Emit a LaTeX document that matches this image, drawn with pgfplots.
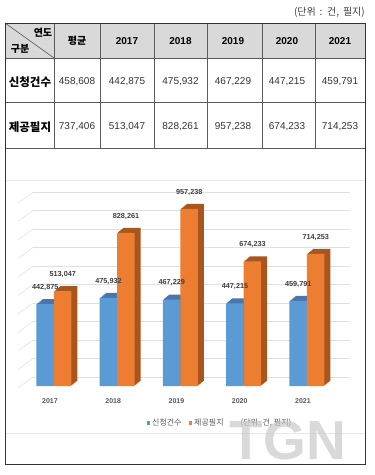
\documentclass[border=0pt]{standalone}
\usepackage{pgfplots}
\pgfplotsset{compat=1.18}
\usepackage{pgfplotstable}
\usepackage{fontspec}
\setmainfont{Liberation Sans}
\newfontfamily\kr{Noto Sans CJK KR}
\definecolor{cblue}{HTML}{5B9BD5}
\definecolor{corange}{HTML}{ED7D31}
\definecolor{cblueD}{HTML}{4677AE}
\definecolor{corangeD}{HTML}{A9561C}
\definecolor{hdr}{HTML}{D9D9D9}
\definecolor{tline}{HTML}{5A5A5A}
\definecolor{txt}{HTML}{595959}
\pgfplotsset{sqlegend/.style={legend image code/.code={\fill[##1] (0pt,-1.8pt) rectangle (3.6pt,1.8pt);}}}

\pgfplotstableread{
x blue orange
0 442875 513047
1 475932 828261
2 467229 957238
3 447215 674233
4 459791 714253
}\data

\begin{document}
\begin{tikzpicture}[x=1pt,y=1pt]
\useasboundingbox (0,0) rectangle (375,-475);
\fill[white] (0,0) rectangle (375,-475);
% table header background
\fill[hdr] (5,-23) rectangle (365,-58);
% faint chart frame lines
\draw[gray!18, line width=0.6pt] (5,-180) -- (365,-180);
\draw[gray!18, line width=0.6pt] (5,-433) -- (365,-433);
% table grid
\draw[tline, line width=0.6pt] (5,-58) -- (365,-58) (5,-102) -- (365,-102) (5,-148) -- (365,-148);
\foreach \xx in {54,100,154,207,262,315} \draw[tline, line width=0.6pt] (\xx,-23) -- (\xx,-148);
\draw[tline, line width=0.6pt] (5,-23) -- (54,-58);
\draw[black!80, line width=0.9pt] (5,-23) rectangle (365,-464);
% unit
\node[font=\kr\fontsize{10}{10}\selectfont, text=black!75, anchor=east, inner sep=0pt] at (365,-12) {(단위 \,:\, 건, \,필지)};
% header texts
\node[font=\kr\bfseries\fontsize{10}{10}\selectfont] at (43,-33) {연도};
\node[font=\kr\bfseries\fontsize{10}{10}\selectfont] at (20,-49) {구분};
\node[font=\kr\bfseries\fontsize{10}{10}\selectfont] at (77,-41) {평균};
\node[font=\bfseries\fontsize{10}{10}\selectfont] at (127,-41) {2017};
\node[font=\bfseries\fontsize{10}{10}\selectfont] at (180.5,-41) {2018};
\node[font=\bfseries\fontsize{10}{10}\selectfont] at (233,-41) {2019};
\node[font=\bfseries\fontsize{10}{10}\selectfont] at (287,-41) {2020};
\node[font=\bfseries\fontsize{10}{10}\selectfont] at (340,-41) {2021};
% row labels
\node[font=\kr\bfseries\fontsize{11.5}{12}\selectfont] at (30,-82) {신청건수};
\node[font=\kr\bfseries\fontsize{11.5}{12}\selectfont] at (30,-127) {제공필지};
% values
\begin{scope}[every node/.style={font=\fontsize{10}{10}\selectfont, text=black!80}]
\node at (77,-82) {458,608};
\node at (127,-82) {442,875};
\node at (180.5,-82) {475,932};
\node at (233,-82) {467,229};
\node at (287,-82) {447,215};
\node at (340,-82) {459,791};
\node at (77,-127) {737,406};
\node at (127,-127) {513,047};
\node at (180.5,-127) {828,261};
\node at (233,-127) {957,238};
\node at (287,-127) {674,233};
\node at (340,-127) {714,253};
\end{scope}

\begin{axis}[
  at={(33pt,-386pt)}, anchor=south west,
  scale only axis, width=317pt, height=194.25pt,
  xmin=-0.332, xmax=4.68, ymin=0, ymax=1050000,
  enlargelimits=false, clip=false,
  axis line style={draw=none},
  major tick length=0pt,
  scaled y ticks=false,
  ytick={0,100000,200000,300000,400000,500000,600000,700000,800000,900000,1000000},
  yticklabels={},
  ymajorgrids,
  major grid style={draw=gray!25, line width=0.5pt, yshift=9pt},
  xtick={0,1,2,3,4},
  xticklabels={2017,2018,2019,2020,2021},
  xticklabel style={font=\bfseries\fontsize{7}{8}\selectfont, text=txt, xshift=-4pt, yshift=-9pt},
  ybar, bar width=17.5pt,
  /pgf/number format/.cd, fixed, 1000 sep={,}, assume math mode=true,
  /pgfplots/.cd,
  legend style={draw=none, fill=none, at={(0.483,-0.19)}, anchor=center,
    legend columns=2, font=\kr\fontsize{8}{9}\selectfont, text=txt,
    /tikz/every even column/.append style={column sep=5pt}},
]
\pgfplotsinvokeforeach{0,100000,200000,300000,400000,500000,600000,700000,800000,900000,1000000}{
  \draw[gray!25, line width=0.5pt] ([yshift=9pt]axis cs:-0.332,#1) -- ++(-15pt,-11pt);
}
\pgfplotsinvokeforeach{1,2,3,4,5,6}{
  \addplot[fill=cblueD, draw=none, bar shift=-8.75pt, xshift=#1pt, yshift={#1*0.83pt}, forget plot] table[x=x,y=blue]{\data};
}
\addplot[fill=cblue, draw=none, bar shift=-8.75pt, sqlegend,
  nodes near coords,
  every node near coord/.append style={font=\bfseries\fontsize{7.3}{8}\selectfont, text=black!75, yshift=10pt}]
  table[x=x,y=blue]{\data};
\addlegendentry{신청건수}
\pgfplotsinvokeforeach{1,2,3,4,5,6}{
  \addplot[fill=corangeD, draw=none, bar shift=8.75pt, xshift=#1pt, yshift={#1*0.83pt}, forget plot] table[x=x,y=orange]{\data};
}
\addplot[fill=corange, draw=none, bar shift=8.75pt, sqlegend,
  nodes near coords,
  every node near coord/.append style={font=\bfseries\fontsize{7.3}{8}\selectfont, text=black!75, yshift=10pt}]
  table[x=x,y=orange]{\data};
\addlegendentry{제공필지}
\end{axis}
\node[font=\kr\fontsize{8}{9}\selectfont, text=txt] at (266,-423) {(단위: 건, 필지)};
\node[font=\bfseries\fontsize{55}{55}\selectfont, text=gray!45, opacity=0.65] at (288,-441) {TGN};
\end{tikzpicture}
\end{document}
